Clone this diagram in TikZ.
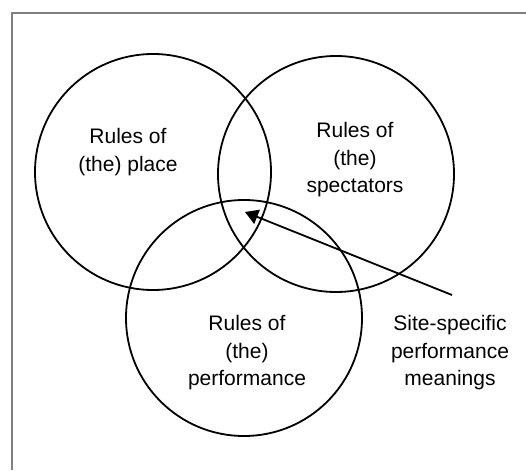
\documentclass[tikz,border=0pt]{standalone}
\usepackage{fontspec}
\setmainfont{Liberation Sans}
\usetikzlibrary{arrows.meta}
\begin{document}
\begin{tikzpicture}[x=1pt,y=-1pt,
  ring/.style={draw=black, circle, line width=1.8pt, minimum size=236pt, inner sep=0pt, outer sep=0pt},
  caption/.style={align=center, font=\fontsize{21}{27.5}\selectfont, inner sep=0pt},
  frameline/.style={draw=black!50, line width=2pt},
  pointer/.style={line width=1.8pt, -{Triangle[length=13pt,width=15pt]}}]
  \useasboundingbox (0,0) rectangle (526,470);
  % open frame: top and left edges only
  \coordinate (fbl) at (12,470);
  \coordinate (fc) at (12,13);
  \coordinate (ftr) at (526,13);
  \draw[frameline] (fbl) -- (fc) -- (ftr);
  % the three overlapping sets
  \node[ring] (place) at (153,172) {};
  \node[ring] (spect) at (336,174) {};
  \node[ring] (perf) at (244,318) {};
  % set labels
  \node[caption] (tplace) at (128,152) {Rules of\\(the) place};
  \node[caption] (tspect) at (355,160) {Rules of\\(the)\\spectators};
  \node[caption] (tperf) at (247,353) {Rules of\\(the)\\performance};
  \node[caption] (tsite) at (450,353) {Site-specific\\performance\\meanings};
  % arrow into the common intersection
  \coordinate (tail) at (452,295);
  \coordinate (core) at (245,212);
  \draw[pointer] (tail) -- (core);
\end{tikzpicture}
\end{document}
